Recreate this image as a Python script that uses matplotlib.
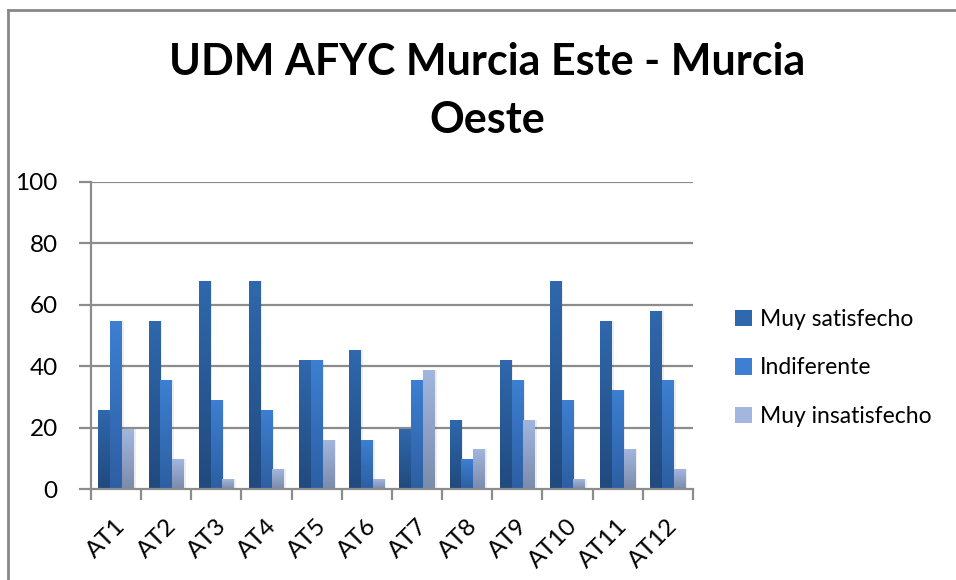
import matplotlib
matplotlib.use("Agg")
import matplotlib.pyplot as plt
import numpy as np
import matplotlib.transforms as mtrans
from matplotlib.lines import Line2D
from matplotlib.patches import Patch

categories = ["AT1", "AT2", "AT3", "AT4", "AT5", "AT6", "AT7", "AT8", "AT9", "AT10", "AT11", "AT12"]
muy_satisfecho = [25.8, 54.8, 67.7, 67.7, 41.9, 45.2, 19.4, 22.6, 41.9, 67.7, 54.8, 58.1]
indiferente = [54.8, 35.5, 29.0, 25.8, 41.9, 16.1, 35.5, 9.7, 35.5, 29.0, 32.3, 35.5]
muy_insatisfecho = [19.4, 9.7, 3.2, 6.5, 16.1, 3.2, 38.7, 12.9, 22.6, 3.2, 12.9, 6.5]
series_names = ["Muy satisfecho", "Indiferente", "Muy insatisfecho"]
y_ticks = [0, 20, 40, 60, 80, 100]

# (top colour, bottom colour) for gradients
grad = [("#2F68AC", "#214A7E"), ("#3D7FD2", "#2D5FA2"), ("#A2B6DE", "#7B8BAB")]

plt.rcParams['font.family'] = ['Lato', 'DejaVu Sans']

fig = plt.figure(figsize=(9.56, 5.8), dpi=100)
W, H = 956, 580
ax = fig.add_axes([91 / W, 1 - 489 / H, (693 - 91) / W, (489 - 182) / H])

x = np.arange(len(categories))
bw = 0.235
data = [muy_satisfecho, indiferente, muy_insatisfecho]
grid_c = "#8C8C8C"

ax.set_xlim(-0.5, len(categories) - 0.5)
ax.set_ylim(0, 100)
for yv in y_ticks[1:]:
    ax.axhline(yv, color=grid_c, lw=1.6, zorder=1)

def make_grad(c1, c2, n=64):
    a = np.array(matplotlib.colors.to_rgb(c1))
    b = np.array(matplotlib.colors.to_rgb(c2))
    t = np.linspace(0, 1, n)[:, None]
    return (a * (1 - t) + b * t)[:, None, :]

for i, (vals, (ct, cb)) in enumerate(zip(data, grad)):
    offs = (i - 1) * bw
    ax.bar(x + offs + 0.035, vals, bw, color="#000000", alpha=0.07, zorder=2, linewidth=0)
    bars = ax.bar(x + offs, vals, bw, color=cb, zorder=3, linewidth=0)
    img = make_grad(ct, cb)
    for p in bars:
        x0, w, h = p.get_x(), p.get_width(), p.get_height()
        im = ax.imshow(img, extent=(x0, x0 + w, 0, h), aspect='auto', zorder=4,
                       interpolation='bilinear', origin='upper')
        im.set_clip_path(p)

ax.set_xlim(-0.5, len(categories) - 0.5)
ax.set_ylim(0, 100)

for s in ['top', 'right']:
    ax.spines[s].set_visible(False)
for s in ['left', 'bottom']:
    ax.spines[s].set_color(grid_c)
    ax.spines[s].set_linewidth(1.6)
    ax.spines[s].set_zorder(5)

ax.set_yticks(y_ticks)
ax.set_yticklabels([str(v) for v in y_ticks], fontsize=17.5)
ax.tick_params(axis='y', length=9, width=1.6, color=grid_c, pad=15)

ax.set_xticks(x)
ax.set_xticklabels(categories, fontsize=17.5, rotation=45, ha='right', va='top',
                   rotation_mode='anchor')
ax.tick_params(axis='x', which='major', length=0, pad=19)
ax.set_xticks(np.arange(-0.5, len(categories)), minor=True)
ax.tick_params(axis='x', which='minor', length=8, width=1.6, color=grid_c)
off = mtrans.ScaledTranslation(-1 / 100, 0, fig.dpi_scale_trans)
for lbl in ax.get_xticklabels():
    lbl.set_transform(lbl.get_transform() + off)

fig.text(487 / W, 1 - 91 / H, "UDM AFYC Murcia Este - Murcia\nOeste", ha='center', va='center',
         fontsize=31, fontweight='bold', linespacing=1.55)

handles = [Patch(facecolor=grad[i][0], edgecolor='none') for i in range(3)]
fig.legend(handles, series_names, loc='center left', bbox_to_anchor=(726 / W, 1 - 368 / H),
           frameon=False, fontsize=16.5, handlelength=0.75, handleheight=0.75,
           handletextpad=0.35, labelspacing=1.2, borderaxespad=0)

# outer chart border (left and top visible)
fig.add_artist(Line2D([7.5 / W, 7.5 / W], [0, 1 - 10 / H], color="#888888", lw=2, transform=fig.transFigure))
fig.add_artist(Line2D([7.5 / W, 1], [1 - 10 / H, 1 - 10 / H], color="#888888", lw=2, transform=fig.transFigure))

fig.savefig("out.png", dpi=100)
